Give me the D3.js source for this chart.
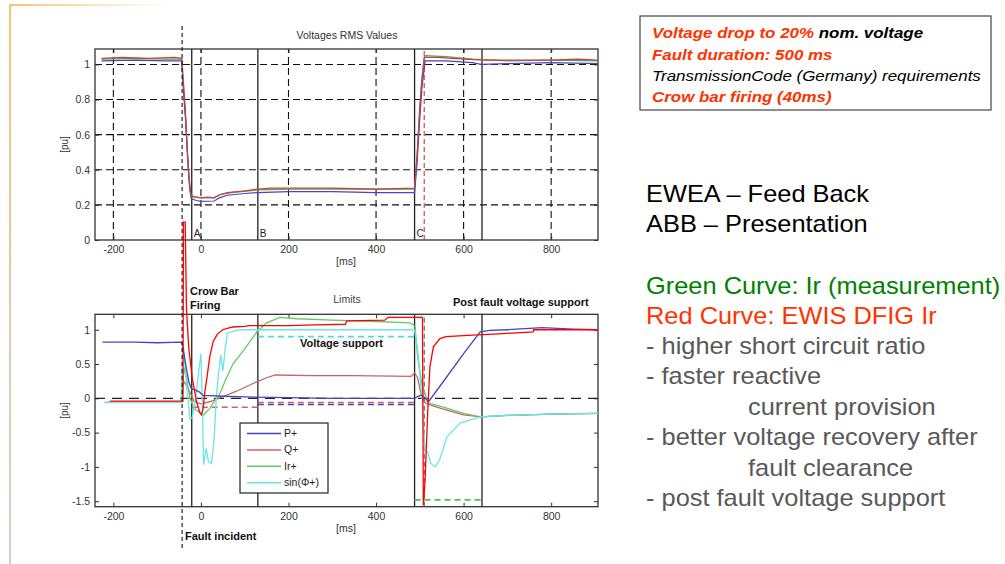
<!DOCTYPE html>
<html><head><meta charset="utf-8">
<script src="https://cdn.jsdelivr.net/npm/d3@7"></script>
<style>body{margin:0;background:#fff;} svg{display:block;font-family:"Liberation Sans",Arial,sans-serif;}</style>
</head><body><svg id="c" width="1005" height="564"></svg>
<script>
// ---------- DATA ----------
const xTicks = [-200, 0, 200, 400, 600, 800];
const yTicksTop = [0, 0.2, 0.4, 0.6, 0.8, 1];
const yTicksBot = [-1.5, -1, -0.5, 0, 0.5, 1];
const markerSolid = [-21, 130, 488, 642];
const markerLabels = [["A", -21], ["B", 130], ["C", 488]];
const markerDashed = 510;
const faultIncident = -43;

// Top plot: RMS voltages [ms, pu]
const voltRed = [[-227,1.035],[-180,1.04],[-120,1.035],[-60,1.04],[-44,1.035],[-40,0.9],[-36,0.75],[-32,0.55],[-28,0.38],[-24,0.27],[-20,0.25],[-10,0.245],[0,0.24],[15,0.245],[30,0.24],[40,0.255],[60,0.27],[100,0.28],[130,0.29],[160,0.295],[220,0.295],[300,0.295],[400,0.29],[488,0.295],[494,0.5],[499,0.72],[504,0.9],[510,1.04],[540,1.04],[600,1.03],[650,1.025],[720,1.025],[800,1.025],[860,1.03],[907,1.025]];
const voltGreen = [[-227,1.03],[-150,1.035],[-80,1.03],[-44,1.03],[-40,0.88],[-35,0.7],[-31,0.5],[-27,0.35],[-23,0.25],[-18,0.245],[0,0.24],[30,0.24],[45,0.26],[70,0.27],[130,0.285],[200,0.29],[300,0.29],[400,0.29],[488,0.29],[494,0.48],[500,0.75],[505,0.92],[511,1.05],[560,1.045],[620,1.03],[700,1.02],[800,1.025],[907,1.02]];
const voltBlue = [[-227,1.02],[-150,1.025],[-80,1.02],[-44,1.02],[-40,0.85],[-35,0.68],[-30,0.45],[-26,0.3],[-22,0.235],[-10,0.225],[0,0.22],[30,0.222],[42,0.24],[60,0.255],[100,0.265],[130,0.27],[200,0.275],[300,0.275],[400,0.27],[488,0.27],[494,0.45],[500,0.7],[505,0.87],[512,1.02],[560,1.02],[620,1.01],[640,1.0],[700,1.005],[800,1.01],[907,1.005]];

// Bottom plot: currents/powers [ms, pu]
const pPlus = [[-225,0.82],[-150,0.82],[-100,0.81],[-45,0.82],[-41,0.75],[-35,0.5],[-28,0.25],[-22,0.14],[-12,0.12],[-3,0.09],[5,0.04],[20,0.04],[50,0.03],[100,0.02],[200,0.01],[300,0.0],[488,0.0],[496,0.03],[505,0.05],[514,-0.01],[520,-0.05],[560,0.3],[600,0.65],[638,0.97],[660,0.99],[700,1.0],[780,1.03],[850,1.01],[907,1.0]];
const qPlus = [[-220,-0.06],[-44,-0.06],[-40,0.25],[-34,0.2],[-26,0.1],[-15,-0.05],[0,-0.08],[20,-0.05],[40,0.0],[80,0.1],[120,0.22],[150,0.3],[170,0.34],[250,0.33],[350,0.33],[480,0.32],[488,0.37],[495,0.3],[505,0.0],[515,-0.08],[550,-0.15],[600,-0.24],[640,-0.27],[700,-0.25],[800,-0.23],[907,-0.22]];
const irPlus = [[-220,-0.06],[-45,-0.06],[-42,0.2],[-38,0.45],[-33,0.3],[-25,0.0],[-15,-0.15],[-5,-0.2],[5,-0.25],[12,-0.2],[20,-0.15],[30,-0.05],[40,0.02],[55,0.25],[73,0.5],[100,0.72],[128,0.97],[150,1.1],[181,1.18],[220,1.16],[300,1.14],[400,1.12],[478,1.1],[489,1.05],[495,0.6],[505,0.2],[519,-0.07],[550,-0.12],[600,-0.22],[638,-0.27],[700,-0.25],[800,-0.23],[907,-0.22]];
const sinPhi = [[-220,-0.06],[-45,-0.06],[-42,0.75],[-38,0.6],[-33,0.2],[-25,-0.3],[-20,-0.28],[-12,0.0],[-5,0.4],[0,0.65],[3,0.0],[6,-0.97],[12,-0.73],[17,-0.92],[24,-0.95],[30,-0.6],[35,0.0],[40,0.35],[45,0.63],[50,0.4],[55,0.7],[60,0.95],[75,0.98],[90,1.0],[200,1.0],[300,1.0],[488,1.0],[495,0.7],[505,0.0],[512,-0.78],[518,-0.78],[525,-0.95],[535,-1.0],[545,-0.9],[562,-0.56],[592,-0.36],[638,-0.27],[700,-0.25],[800,-0.23],[907,-0.22]];
const ewisIr = [[-208,-0.04],[-44,-0.04],[-41,-0.04],[-40,2.57],[-36,2.57],[-33,1.3],[-28,0.75],[-20,0.3],[-10,-0.05],[-3,-0.2],[1,-0.24],[5,-0.15],[9,0.1],[13,0.27],[20,0.6],[28,0.83],[38,0.94],[50,1.0],[60,1.02],[73,1.04],[100,1.05],[110,1.06],[200,1.06],[260,1.07],[330,1.08],[333,1.13],[420,1.14],[427,1.18],[506,1.18],[508,-1.56],[512,-1.2],[518,-0.2],[523,0.46],[531,0.75],[546,0.87],[560,0.9],[620,0.92],[680,0.94],[759,0.97],[760,1.0],[907,1.0]];

// Limit lines [from ms, to ms, pu]
const limitQa = [-21, 130, -0.13];
const limitQb = [130, 488, -0.06];
const limitPb = [130, 488, -0.09];
const limitSin = [130, 488, 0.9];
const limitIr = [488, 642, -1.48];

const legendItems = ["P+", "Q+", "Ir+", "sin(\u03a6+)"];
const legendColors = ["#4646b4", "#c86464", "#64c864", "#6ae6e6"];

// ---------- DRAW ----------
const svg = d3.select("#c");
const xDom = [-242, 907], xRange = [95, 598];
const xT = d3.scaleLinear(xDom, xRange);
const yT = d3.scaleLinear([0, 1.088], [240, 49]);
const yB = d3.scaleLinear([-1.58, 1.225], [506.7, 314.3]);
const fmt = d => String(d);

// slide border
const defs = svg.append("defs");
const gv = defs.append("linearGradient").attr("id","gv").attr("x1",0).attr("y1",0).attr("x2",0).attr("y2",1);
gv.append("stop").attr("offset","0").attr("stop-color","#f6c373");
gv.append("stop").attr("offset","1").attr("stop-color","#d0d0d0");
const gh = defs.append("linearGradient").attr("id","gh").attr("x1",0).attr("y1",0).attr("x2",1).attr("y2",0);
gh.append("stop").attr("offset","0").attr("stop-color","#f6c373");
gh.append("stop").attr("offset","1").attr("stop-color","#f6c373").attr("stop-opacity",0);
svg.append("rect").attr("x",9).attr("y",5).attr("width",2).attr("height",559).attr("fill","url(#gv)");
svg.append("rect").attr("x",9).attr("y",4).attr("width",160).attr("height",2).attr("fill","url(#gh)");

function frame(y, yTicks, grid) {
  const [y0, y1] = y.range();
  const g = svg.append("g");
  if (grid) {
    g.selectAll(".gx").data(xTicks).join("line")
      .attr("x1", d => xT(d)).attr("x2", d => xT(d)).attr("y1", y0).attr("y2", y1)
      .attr("stroke", "#111").attr("stroke-width", 1.1).attr("stroke-dasharray", "7,4");
    g.selectAll(".gy").data(yTicks.filter(d => d !== 0)).join("line")
      .attr("x1", xRange[0]).attr("x2", xRange[1]).attr("y1", d => y(d)).attr("y2", d => y(d))
      .attr("stroke", "#111").attr("stroke-width", 1.1).attr("stroke-dasharray", "7,4");
  }
  svg.append("g").attr("transform", `translate(0,${y1})`)
    .call(d3.axisTop(xT).tickValues(xTicks).tickSize(-4).tickFormat(""))
    .call(s => s.select(".domain").remove()).selectAll("line").attr("stroke", "#333");
  svg.append("g").attr("transform", `translate(${xRange[1]},0)`)
    .call(d3.axisRight(y).tickValues(yTicks).tickSize(-4).tickFormat(""))
    .call(s => s.select(".domain").remove()).selectAll("line").attr("stroke", "#333");
  const ax = svg.append("g").attr("transform", `translate(0,${y0})`)
    .call(d3.axisBottom(xT).tickValues(xTicks).tickSize(-4).tickPadding(6).tickFormat(fmt));
  const ay = svg.append("g").attr("transform", `translate(${xRange[0]},0)`)
    .call(d3.axisLeft(y).tickValues(yTicks).tickSize(-4).tickPadding(5).tickFormat(fmt));
  [ax, ay].forEach(a => {
    a.select(".domain").remove();
    a.selectAll("line").attr("stroke", "#333");
    a.selectAll("text").attr("fill", "#333").style("font-size", "10.5px").style("font-family", '"Liberation Sans",Arial,sans-serif');
  });
  svg.append("rect").attr("x", xRange[0]).attr("y", y1).attr("width", xRange[1] - xRange[0]).attr("height", y0 - y1)
    .attr("fill", "none").attr("stroke", "#333").attr("stroke-width", 1.3);
}

function markers(y) {
  const [y0, y1] = y.range();
  svg.append("g").selectAll("line").data(markerSolid).join("line")
    .attr("x1", d => xT(d)).attr("x2", d => xT(d)).attr("y1", y0).attr("y2", y1)
    .attr("stroke", "#222").attr("stroke-width", 1.3);
}

// ---- top plot
frame(yT, yTicksTop, true);
markers(yT);
svg.append("line").attr("x1", xT(markerDashed)).attr("x2", xT(markerDashed)).attr("y1", yT.range()[0]).attr("y2", yT.range()[1])
  .attr("stroke", "#e03030").attr("stroke-width", 1.1).attr("stroke-dasharray", "5,3");
svg.append("g").selectAll("text").data(markerLabels).join("text")
  .attr("x", d => xT(d[1]) + 2).attr("y", 237).text(d => d[0])
  .attr("font-size", 10).attr("fill", "#222");
const lineT = d3.line().x(d => xT(d[0])).y(d => yT(d[1]));
[[voltGreen, "#4aa84a"], [voltBlue, "#4646c0"], [voltRed, "#cc4040"]].forEach(([d, c]) => {
  svg.append("path").attr("d", lineT(d)).attr("fill", "none").attr("stroke", c).attr("stroke-width", 1.2);
});
svg.append("text").attr("x", 347).attr("y", 39).attr("text-anchor", "middle").attr("font-size", 10.5).attr("fill", "#333").text("Voltages RMS Values");
svg.append("text").attr("transform", `translate(68,${(yT.range()[0] + yT.range()[1]) / 2}) rotate(-90)`).attr("text-anchor", "middle").attr("font-size", 10).attr("fill", "#333").text("[pu]");
svg.append("text").attr("x", 346).attr("y", 265).attr("text-anchor", "middle").attr("font-size", 10.5).attr("fill", "#333").text("[ms]");

// ---- bottom plot
frame(yB, yTicksBot, false);
markers(yB);
svg.append("line").attr("x1", xT(markerDashed)).attr("x2", xT(markerDashed)).attr("y1", yB.range()[0]).attr("y2", yB.range()[1])
  .attr("stroke", "#555").attr("stroke-width", 1.1).attr("stroke-dasharray", "5,3");
svg.append("line").attr("x1", xRange[0]).attr("x2", xRange[1]).attr("y1", yB(0)).attr("y2", yB(0))
  .attr("stroke", "#222").attr("stroke-width", 1.2).attr("stroke-dasharray", "10,7");
function limit(l, c) {
  svg.append("line").attr("x1", xT(l[0])).attr("x2", xT(l[1])).attr("y1", yB(l[2])).attr("y2", yB(l[2]))
    .attr("stroke", c).attr("stroke-width", 1.6).attr("stroke-dasharray", "6,4");
}
limit(limitQa, "#c86464"); limit(limitQb, "#c86464"); limit(limitPb, "#4646b4");
limit(limitSin, "#5ad8d8"); limit(limitIr, "#50c050");
const lineB = d3.line().x(d => xT(d[0])).y(d => yB(d[1]));
[[qPlus, legendColors[1]], [irPlus, legendColors[2]], [sinPhi, legendColors[3]], [pPlus, legendColors[0]], [ewisIr, "#ff0000"]].forEach(([d, c]) => {
  svg.append("path").attr("d", lineB(d)).attr("fill", "none").attr("stroke", c).attr("stroke-width", 1.3);
});
svg.append("line").attr("x1", xT(faultIncident)).attr("x2", xT(faultIncident)).attr("y1", 26).attr("y2", 548)
  .attr("stroke", "#222").attr("stroke-width", 1.2).attr("stroke-dasharray", "4,3");

// legend
const lg = svg.append("g");
lg.append("rect").attr("x", 240).attr("y", 423).attr("width", 88).attr("height", 70).attr("fill", "#fff").attr("stroke", "#222").attr("stroke-width", 1.2);
legendItems.forEach((t, i) => {
  const yy = 433.5 + i * 16.4;
  lg.append("line").attr("x1", 247).attr("x2", 281).attr("y1", yy).attr("y2", yy).attr("stroke", legendColors[i]).attr("stroke-width", 1.5);
  lg.append("text").attr("x", 284).attr("y", yy + 3.5).attr("font-size", 10.5).attr("fill", "#222").text(t);
});

svg.append("text").attr("transform", `translate(68,${(yB.range()[0] + yB.range()[1]) / 2}) rotate(-90)`).attr("text-anchor", "middle").attr("font-size", 10).attr("fill", "#333").text("[pu]");
svg.append("text").attr("x", 346).attr("y", 532).attr("text-anchor", "middle").attr("font-size", 10.5).attr("fill", "#333").text("[ms]");
svg.append("text").attr("x", 347).attr("y", 303).attr("text-anchor", "middle").attr("font-size", 10.5).attr("fill", "#444").text("Limits");
const bold = (x, y, t) => svg.append("text").attr("x", x).attr("y", y).attr("font-size", 11).attr("font-weight", "bold").attr("fill", "#111").text(t);
bold(190, 295, "Crow Bar"); bold(190, 308.5, "Firing");
bold(453, 306, "Post fault voltage support");
bold(300, 347, "Voltage support");
bold(185, 540, "Fault incident");

// ---- right side texts
svg.append("rect").attr("x", 640).attr("y", 16).attr("width", 351).attr("height", 94).attr("fill", "#fff").attr("stroke", "#444").attr("stroke-width", 1.2);
const boxLines = [
  [[["Voltage drop to 20% ", "#ff3300", "bold"], ["nom. voltage", "#000", "bold"]], 38.5],
  [[["Fault duration: 500 ms", "#ff3300", "bold"]], 60],
  [[["TransmissionCode (Germany) requirements", "#000", "normal"]], 81.5],
  [[["Crow bar firing (40ms)", "#ff3300", "bold"]], 102]
];
const bg = svg.append("g").attr("transform", "translate(652,0) scale(1.185,1) translate(-652,0)");
boxLines.forEach(([parts, y]) => {
  const t = bg.append("text").attr("x", 652).attr("y", y).attr("font-size", 14.3).attr("font-style", "italic");
  parts.forEach(p => t.append("tspan").attr("fill", p[1]).attr("font-weight", p[2]).text(p[0]));
});
const rightLines = [
  ["EWEA \u2013 Feed Back", 646, 201.5, "#000"],
  ["ABB \u2013 Presentation", 646, 231.5, "#000"],
  ["Green Curve: Ir (measurement)", 646, 293.5, "#008000"],
  ["Red Curve: EWIS DFIG Ir", 646, 323.5, "#ff3300"],
  ["- higher short circuit ratio", 646, 354, "#595959"],
  ["- faster reactive", 646, 384, "#595959"],
  ["current provision", 748, 415, "#595959"],
  ["- better voltage recovery after", 646, 445, "#595959"],
  ["fault clearance", 748, 475.5, "#595959"],
  ["- post fault voltage support", 646, 505.5, "#595959"]
];
svg.append("g").selectAll("text").data(rightLines).join("text")
  .attr("transform", d => `translate(${d[1]},${d[2]}) scale(1.105,1)`)
  .attr("fill", d => d[3]).attr("font-size", 23).text(d => d[0]);
</script></body></html>
